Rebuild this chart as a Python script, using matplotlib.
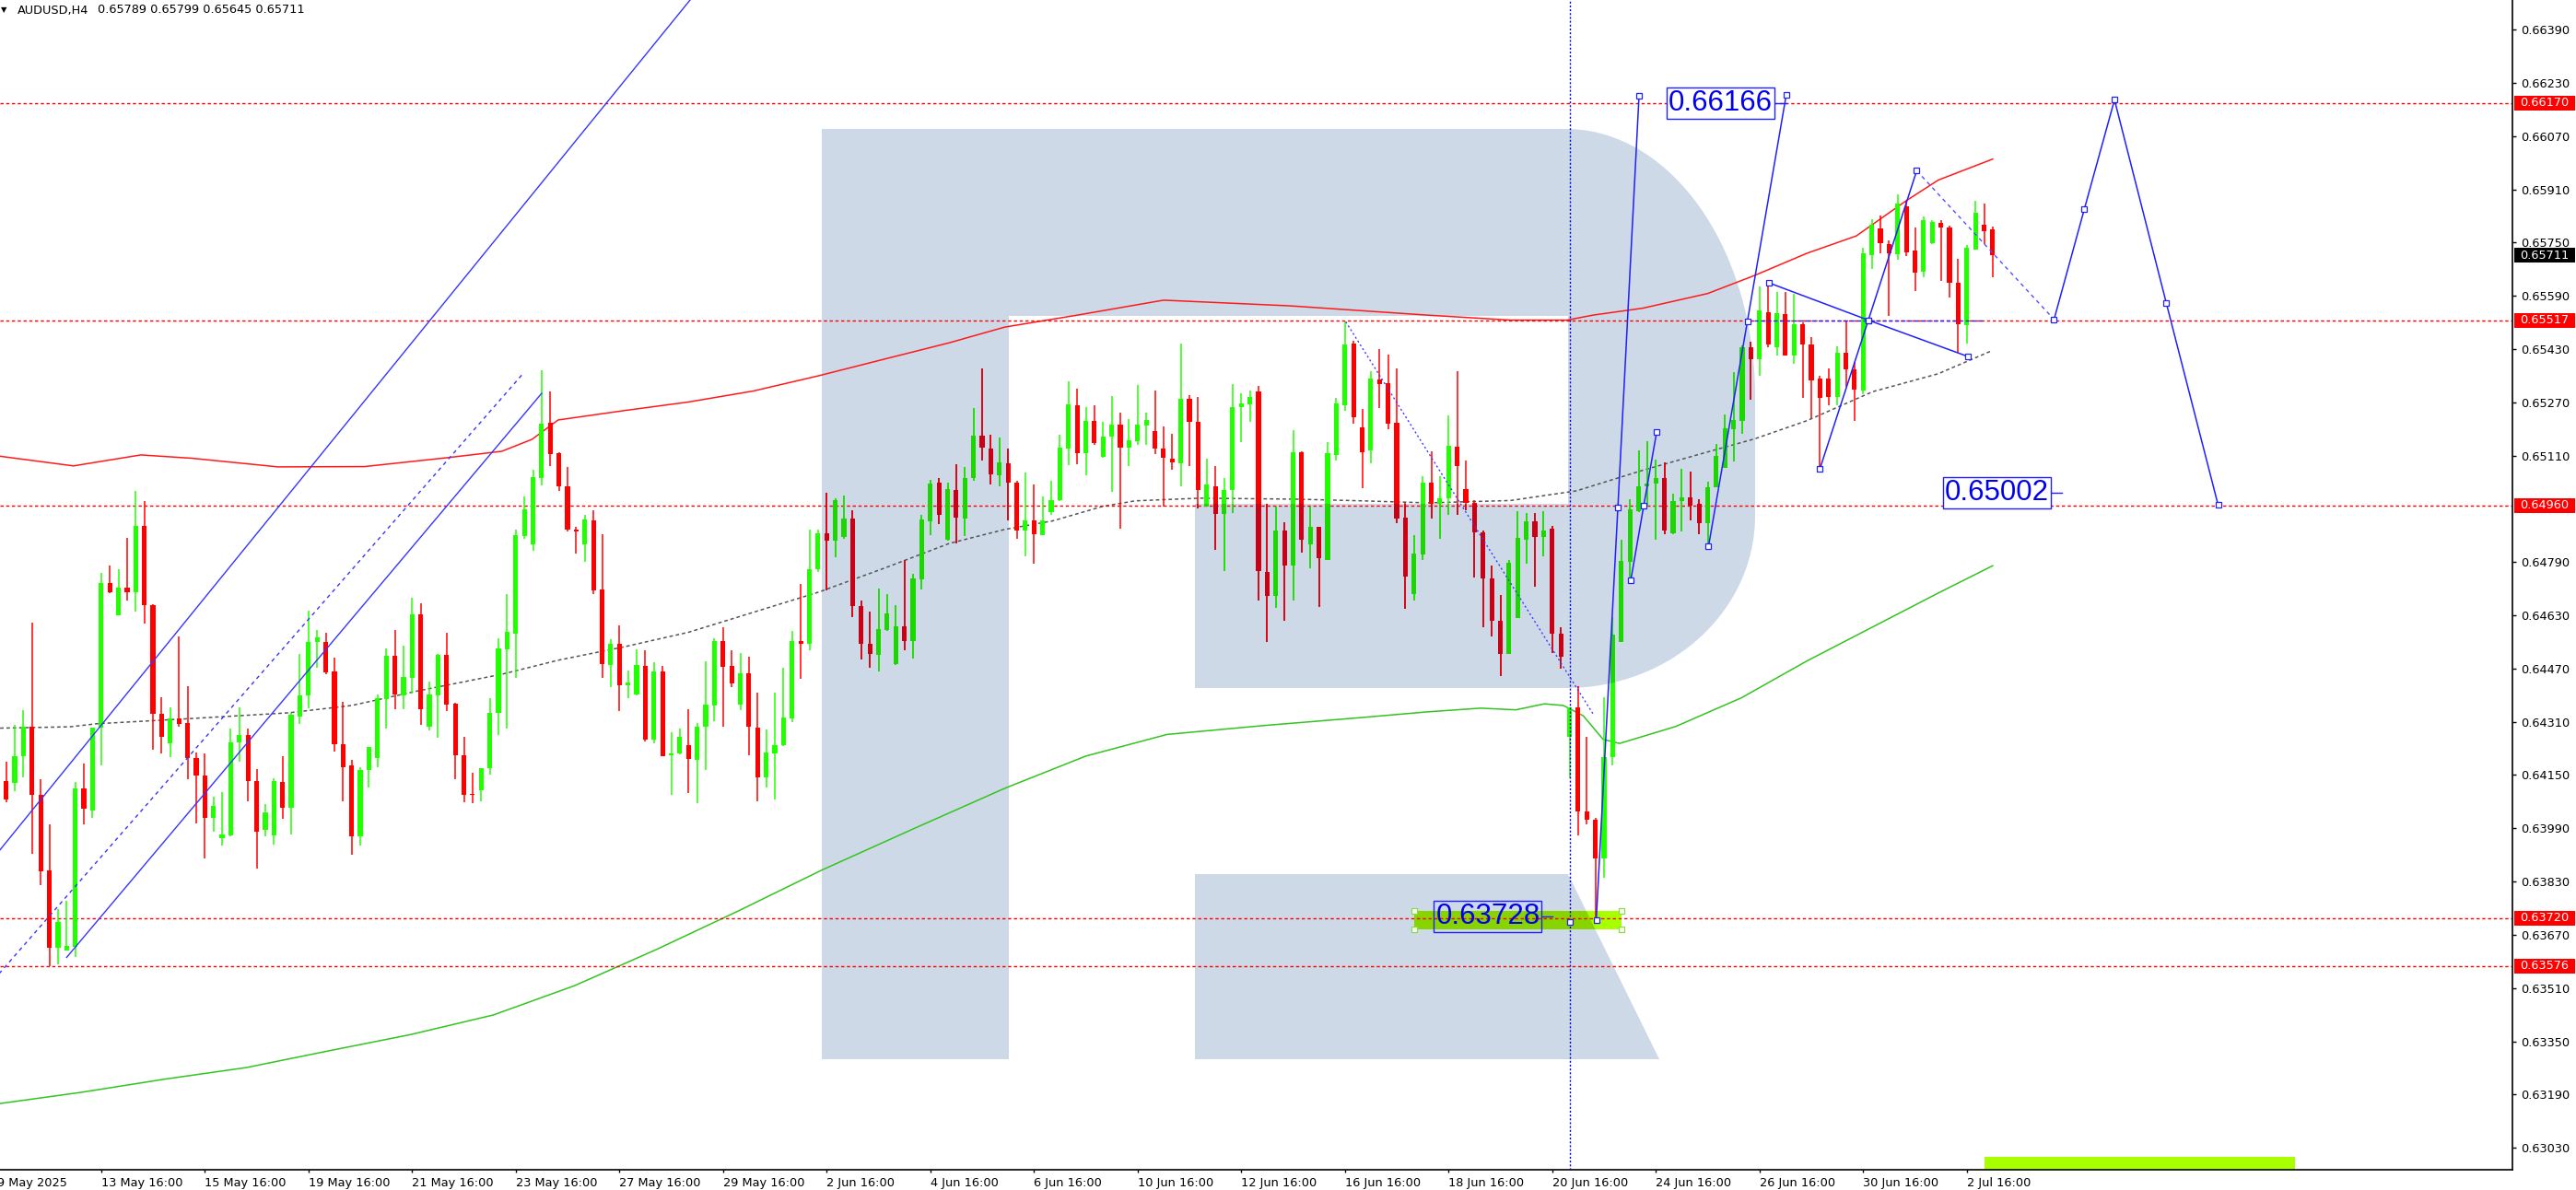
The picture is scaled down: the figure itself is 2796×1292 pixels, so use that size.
import numpy as np
import matplotlib
matplotlib.use('Agg')
import matplotlib.pyplot as plt
from matplotlib.path import Path
from matplotlib.patches import PathPatch, Rectangle
from matplotlib.ticker import FormatStrFormatter
from matplotlib.transforms import blended_transform_factory

plt.rcParams['font.family'] = ['DejaVu Sans']

# ---------------- data (AUDUSD H4) ----------------
opens = [
    .64078, .64133, .64127, .64206, .64295, .64091, .63864, .63632, .63624, .63635,
    .64110, .64044, .64293, .64728, .64630, .64714, .64700, .64899, .64660, .64334,
    .64246, .64320, .64305, .64200, .64148, .64022, .63961, .63969, .64248, .64269,
    .64132, .63984, .63969, .64130, .64051, .64327, .64389, .64551, .64551, .64460,
    .64242, .64178, .63965, .64164, .64200, .64379, .64508, .64390, .64443, .64633,
    .64294, .64389, .64511, .64364, .64209, .64094, .64104, .64170, .64336, .64527,
    .64576, .64868, .64843, .65042, .65208, .65116, .65018, .64888, .64843, .64915,
    .64707, .64480, .64545, .64419, .64392, .64478, .64256, .64461, .64209, .64214,
    .64241, .64195, .64295, .64360, .64552, .64478, .64362, .64455, .64292, .64142,
    .64216, .64239, .64320, .64552, .64544, .64769, .64876, .64853, .64865, .64922,
    .64658, .64545, .64511, .64585, .64483, .64596, .64554, .64737, .64912, .65028,
    .64856, .65006, .64920, .65042, .65171, .65132, .65050, .65088, .65030, .64886,
    .64916, .64872, .64941, .64976, .65130, .65260, .65116, .65214, .65106, .65168,
    .65202, .65133, .65154, .65200, .65184, .65130, .65102, .65088, .65280, .65211,
    .64956, .65019, .64934, .65006, .65256, .65264, .65304, .64760, .64688, .64884,
    .64780, .65120, .64842, .64896, .64797, .65112, .65262, .65448, .65194, .65126,
    .65338, .65328, .65208, .64923, .64694, .64814, .65030, .64964, .64983, .65138,
    .65008, .64968, .64880, .64742, .64614, .64515, .64622, .64857, .64912, .64865,
    .64890, .64576, .64265, .64354, .64040, .64016, .63900, .64205, .64551, .64791,
    .64943, .65019, .65027, .65042, .64877, .64972, .64984, .64964, .64906, .65016,
    .65074, .65189, .65215, .65435, .65399, .65542, .65435, .65534, .65412, .65506,
    .65443, .65341, .65341, .65286, .65420, .65369, .65305, .65713, .65793, .65746,
    .65715, .65859, .65726, .65663, .65749, .65808, .65796, .65628, .65503, .65729,
    .65804, .65789]
highs = [
    .64144, .64191, .64302, .64345, .64608, .64138, .64003, .63748, .63771, .64130,
    .64185, .64293, .64758, .64779, .64769, .64862, .65003, .64974, .64664, .64383,
    .64353, .64566, .64418, .64217, .64214, .64085, .64099, .64289, .64353, .64289,
    .64169, .64064, .64141, .64208, .64336, .64513, .64643, .64585, .64577, .64503,
    .64370, .64197, .64174, .64234, .64393, .64530, .64585, .64540, .64684, .64666,
    .64432, .64515, .64577, .64366, .64266, .64157, .64172, .64381, .64560, .64695,
    .64887, .64986, .65067, .65366, .65302, .65119, .65077, .64897, .64932, .64945,
    .64873, .64559, .64601, .64465, .64527, .64524, .64488, .64478, .64278, .64290,
    .64348, .64307, .64491, .64562, .64593, .64524, .64517, .64505, .64397, .64286,
    .64397, .64473, .64584, .64725, .64888, .64888, .64998, .64981, .64991, .64945,
    .64675, .64641, .64710, .64695, .64661, .64796, .64756, .64932, .65036, .65043,
    .65029, .65085, .65077, .65253, .65371, .65174, .65164, .65130, .65034, .65058,
    .65024, .64988, .65034, .65172, .65332, .65310, .65256, .65260, .65211, .65288,
    .65238, .65220, .65322, .65240, .65306, .65198, .65175, .65448, .65292, .65286,
    .65102, .65078, .65042, .65324, .65298, .65306, .65318, .64964, .64956, .64911,
    .65186, .65124, .64956, .64896, .65150, .65282, .65512, .65456, .65250, .65364,
    .65430, .65414, .65372, .64968, .64872, .65048, .65124, .65048, .65230, .65364,
    .65096, .64976, .64884, .64780, .64692, .64796, .64943, .64936, .64936, .64943,
    .64898, .64595, .64354, .64417, .64265, .64021, .64383, .64626, .64857, .64980,
    .65126, .65152, .65097, .65090, .64995, .65069, .65061, .64980, .65031, .65145,
    .65234, .65360, .65440, .65451, .65619, .65632, .65603, .65603, .65597, .65509,
    .65467, .65349, .65372, .65438, .65517, .65391, .65734, .65820, .65831, .65757,
    .65894, .65875, .65796, .65828, .65817, .65817, .65801, .65702, .65742, .65875,
    .65867, .65799]
lows = [
    .64067, .64067, .64102, .64144, .63914, .63818, .63576, .63580, .63624, .63604,
    .64003, .64022, .64180, .64696, .64630, .64675, .64641, .64605, .64226, .64215,
    .64204, .64296, .64138, .64005, .63899, .63980, .63938, .63966, .64189, .64072,
    .63869, .63966, .63940, .64019, .63972, .64304, .64352, .64472, .64452, .64221,
    .64070, .63910, .63937, .64112, .64174, .64291, .64347, .64347, .64395, .64302,
    .64285, .64263, .64342, .64138, .64067, .64065, .64072, .64150, .64270, .64290,
    .64443, .64860, .64823, .65021, .65078, .65004, .64881, .64816, .64792, .64693,
    .64443, .64414, .64342, .64382, .64389, .64251, .64246, .64207, .64091, .64211,
    .64095, .64066, .64164, .64312, .64295, .64414, .64345, .64209, .64070, .64113,
    .64076, .64236, .64310, .64438, .64524, .64759, .64705, .64804, .64860, .64626,
    .64498, .64473, .64461, .64582, .64480, .64524, .64500, .64707, .64870, .64904,
    .64853, .64846, .64868, .65033, .65095, .65023, .65018, .64914, .64860, .64808,
    .64784, .64872, .64932, .64974, .65082, .65085, .65052, .65142, .65103, .65001,
    .64890, .65078, .65142, .65142, .65115, .64958, .65067, .65018, .65078, .64950,
    .64956, .64827, .64764, .64938, .65151, .65211, .64674, .64551, .64652, .64614,
    .64674, .64818, .64772, .64656, .64797, .65094, .65244, .65206, .65013, .65088,
    .65254, .65190, .64908, .64650, .64674, .64797, .64920, .64860, .64932, .64932,
    .64947, .64743, .64593, .64566, .64448, .64515, .64622, .64786, .64717, .64807,
    .64516, .64469, .64139, .63969, .64001, .63720, .63841, .64178, .64551, .64736,
    .64940, .64956, .64857, .64874, .64874, .64881, .64914, .64874, .64838, .65016,
    .65074, .65093, .65176, .65278, .65349, .65435, .65412, .65412, .65385, .65283,
    .65223, .65072, .65262, .65262, .65317, .65215, .65294, .65671, .65718, .65529,
    .65699, .65710, .65605, .65647, .65745, .65636, .65584, .65420, .65446, .65729,
    .65745, .65645]
closes = [
    .64133, .64078, .64208, .64295, .64091, .63862, .63632, .63709, .63637, .64110,
    .64048, .64293, .64728, .64700, .64714, .64700, .64899, .64660, .64334, .64266,
    .64321, .64304, .64200, .64148, .64022, .64058, .63971, .64248, .64269, .64132,
    .63980, .64039, .64132, .64053, .64330, .64389, .64551, .64565, .64458, .64242,
    .64174, .63965, .64166, .64234, .64381, .64508, .64393, .64446, .64633, .64347,
    .64393, .64511, .64362, .64209, .64091, .64091, .64172, .64338, .64530, .64581,
    .64870, .64949, .65045, .65206, .65114, .65018, .64888, .64883, .64917, .64705,
    .64483, .64545, .64421, .64429, .64481, .64256, .64461, .64207, .64215, .64264,
    .64199, .64295, .64361, .64552, .64476, .64426, .64455, .64295, .64142, .64218,
    .64241, .64322, .64554, .64545, .64769, .64876, .64855, .64976, .64922, .64657,
    .64544, .64515, .64589, .64636, .64596, .64554, .64741, .64919, .65026, .64932,
    .65008, .64924, .65043, .65171, .65134, .65055, .65090, .65028, .64884, .64916,
    .64875, .64914, .64977, .65133, .65264, .65116, .65214, .65148, .65168, .65202,
    .65133, .65156, .65202, .65218, .65130, .65103, .65090, .65280, .65211, .65006,
    .65022, .64934, .65006, .65256, .65266, .65286, .64762, .64688, .64884, .64780,
    .65120, .64856, .64896, .64802, .65118, .65266, .65444, .65226, .65121, .65342,
    .65326, .65206, .64920, .64746, .64815, .65030, .64964, .64983, .65140, .65078,
    .64968, .64880, .64740, .64614, .64515, .64788, .64862, .64912, .64865, .64885,
    .64574, .64505, .64354, .64040, .64016, .63900, .64205, .64571, .64794, .64948,
    .65019, .65027, .65042, .64885, .64972, .64984, .64959, .64906, .65016, .65110,
    .65192, .65218, .65435, .65399, .65545, .65443, .65537, .65412, .65506, .65443,
    .65336, .65283, .65286, .65420, .65369, .65309, .65718, .65804, .65749, .65718,
    .65867, .65721, .65660, .65817, .65812, .65796, .65628, .65506, .65734, .65841,
    .65784, .65711]

tick_bars = list(range(0, 229, 12))
tick_labels = ['9 May 2025', '13 May 16:00', '15 May 16:00', '19 May 16:00', '21 May 16:00',
               '23 May 16:00', '27 May 16:00', '29 May 16:00', '2 Jun 16:00', '4 Jun 16:00',
               '6 Jun 16:00', '10 Jun 16:00', '12 Jun 16:00', '16 Jun 16:00', '18 Jun 16:00',
               '20 Jun 16:00', '24 Jun 16:00', '26 Jun 16:00', '30 Jun 16:00', '2 Jul 16:00']

price_ticks = [0.66390, 0.66230, 0.66070, 0.65910, 0.65750, 0.65590, 0.65430, 0.65270,
               0.65110, 0.64790, 0.64630, 0.64470, 0.64310, 0.64150, 0.63990, 0.63830,
               0.63670, 0.63510, 0.63350, 0.63190, 0.63030]
levels = [0.66170, 0.65517, 0.64960, 0.63720, 0.63576]

# moving averages (sampled along the bars)
red_ma_bars = [0.3, 8.8, 16.6, 22.5, 32.5, 42.5, 52.2, 58.4, 61.9, 64.9, 72.5, 80, 87.5, 95.1,
               102.7, 110.2, 116.6, 125, 135, 149.6, 165.6, 175.2, 181.7, 184.7, 190.5, 198,
               203.4, 209.5, 215.2, 221, 224.7, 231]
red_ma_vals = [.65108, .65079, .65112, .65102, .65076, .65077, .65104, .65123, .65159, .65217,
               .65245, .65271, .65304, .65350, .65400, .65449, .65496, .65532, .65577, .65560,
               .65532, .65517, .65517, .65532, .65553, .65597, .65651, .65718, .65770, .65876,
               .65938, .66001]
gray_ma_bars = [0.3, 8.4, 11.4, 22.5, 33.7, 41.0, 48.5, 58.4, 64.9, 72.5, 80, 87.5, 95.1, 102.7,
                110.2, 116.6, 122.2, 127.9, 131.7, 139.2, 150.5, 158, 165.6, 175.2, 182.8,
                190.5, 198, 203.4, 209.5, 217.1, 224.7, 230.8]
gray_ma_vals = [.64291, .64295, .64304, .64320, .64337, .64359, .64402, .64453, .64495, .64535,
                .64579, .64639, .64700, .64772, .64846, .64888, .64914, .64957, .64974, .64982,
                .64979, .64974, .64968, .64975, .65004, .65066, .65121, .65160, .65215, .65302,
                .65356, .65424]
green_ma_bars = [0.3, 9.8, 19.3, 28.8, 38.3, 47.8, 57.4, 66.8, 76.3, 85.8, 95.4, 106, 116.6, 126,
                 135.4, 146.7, 158, 165.6, 171.7, 175.8, 179.1, 181.3, 183.6, 185.9, 187.8,
                 194.3, 201.9, 209.5, 217.1, 224.7, 231]
green_ma_vals = [.63163, .63197, .63236, .63271, .63321, .63370, .63429, .63517, .63626, .63742,
                 .63864, .63988, .64110, .64207, .64272, .64299, .64323, .64340, .64351, .64346,
                 .64364, .64359, .64328, .64257, .64245, .64296, .64382, .64493, .64595, .64697,
                 .64779]

# analysis objects
channel_top = ([-1, 85], [.63884, .66633])
channel_low = ([8.0, 63.0], [.63602, .65297])
channel_mid = ([-1, 60.8], [.63518, .65355])
wave_lines = [
    ([185.1, 187.6, 190.05], [.63715, .64953, .66191]),
    ([189.1, 190.6, 192.1], [.64736, .64960, .65182]),
    ([198.1, 202.6, 207.1], [.64838, .65514, .66195]),
    ([205.1, 216.6, 228.1], [.65629, .65517, .65408]),
    ([211.0, 216.6, 222.2], [.65071, .65517, .65966]),
    ([238.1, 241.6, 245.1, 251.1, 257.1], [.65519, .65850, .66179, .65568, .64961]),
]
forecast_dash = ([222.2, 238.1], [.65966, .65519])
high_dots = ([156.1, 184.7], [.65512, .64335])
pivot_dash = ([202.6, 230.0], [.65517, .65517])
vline_bar = 182.05
vline_anchor = .63709
price_tags = [(199.5, .66168, '0.66166', 205.8, 207.1, 'white'),
              (172.55, .63725, '0.63728', 178.8, 180.0, 'none'),
              (231.5, .64998, '0.65002', 237.8, 239.0, 'white')]
green_box = (164.0, 188.0, .63685, .63741)
green_zone = (230.0, 266.0, .62900, .63004)

# ---------------- figure ----------------
W, H = 2796, 1292
PW, PH = 2727, 1270
fig = plt.figure(figsize=(W / 100, H / 100), dpi=100)
ax = fig.add_axes([0, (H - PH) / H, PW / W, PH / H])
ax.set_xlim(0.288, 291.17)
ax.set_ylim(0.62964, 0.66479)


def arc(cx, cy, rx, ry, a0, a1, n=40):
    t = np.radians(np.linspace(a0, a1, n))
    return list(zip(cx + rx * np.cos(t), cy - ry * np.sin(t)))


# background logo (pixel outline of the plot area)
bowl = ([(892, 140), (1700, 140)] + arc(1700, 430, 205, 290, 90, 0)
        + arc(1700, 560, 205, 187, 0, -90)
        + [(1297, 747), (1297, 547), (1702, 547), (1702, 343), (1095, 343),
           (1095, 1150), (892, 1150)])
leg = [(1297, 949), (1702, 949), (1801, 1150), (1297, 1150)]
verts, codes = [], []
for poly in (bowl, leg):
    pts = [(x / PW, 1 - y / PH) for x, y in poly]
    verts += pts + [pts[0]]
    codes += [Path.MOVETO] + [Path.LINETO] * (len(pts) - 1) + [Path.CLOSEPOLY]
logo = PathPatch(Path(verts, codes), transform=ax.transAxes, facecolor='#cdd9e7',
                 edgecolor='none', zorder=1)
ax.add_patch(logo)

# green rectangles
for (x0, x1, y0, y1), col in ((green_box, '#a8ff00'), (green_zone, '#a8ff00')):
    ax.add_patch(Rectangle((x0, y0), x1 - x0, y1 - y0, facecolor=col, edgecolor='none', zorder=1.5))
r = Rectangle((green_box[0], green_box[2]), green_box[1] - green_box[0],
              green_box[3] - green_box[2], facecolor='#88d400', edgecolor='none', zorder=1.6)
ax.add_patch(r)
r.set_clip_path(logo)
ax.plot([green_box[0], green_box[1], green_box[0], green_box[1]],
        [green_box[2], green_box[2], green_box[3], green_box[3]], ls='none', marker='s',
        ms=4, mfc='white', mec='#88dd44', mew=0.9, zorder=4)

# moving averages
ax.plot(green_ma_bars, green_ma_vals, color='#33c41f', lw=1.1, zorder=2)
ax.plot(red_ma_bars, red_ma_vals, color='#ff1a1a', lw=1.1, zorder=2)
ax.plot(gray_ma_bars, gray_ma_vals, color='#555555', lw=1.1, ls=(0, (2.5, 2)), zorder=2)

# horizontal levels
for lv in levels:
    ax.axhline(lv, color='#ff0000', lw=1.0, ls=(0, (2.5, 2)), zorder=2.5)

# candles
o, h, l, c = map(np.array, (opens, highs, lows, closes))
x = np.arange(len(o))


def draw_candles(up_col, dn_col, z, clip=None):
    cols = list(np.where(c >= o, up_col, dn_col))
    wicks = ax.vlines(x, l, h, colors=cols, linewidth=1.1, zorder=z)
    bars = ax.bar(x, np.maximum(np.abs(c - o), 3e-5), bottom=np.minimum(o, c), width=0.55,
                  color=cols, linewidth=0, zorder=z)
    if clip is not None:
        wicks.set_clip_path(clip)
        for b in bars:
            b.set_clip_path(clip)


draw_candles('#22ff00', '#ff0000', 3)
draw_candles('#1cd600', '#cc0014', 3.1, clip=logo)

# channel lines
ax.plot(*channel_top, color='#3535ff', lw=1.0, zorder=4)
ax.plot(*channel_low, color='#3535ff', lw=1.0, zorder=4)
ax.plot(*channel_mid, color='#3535ff', lw=1.0, ls=(0, (3, 3)), zorder=4)

# wave marking
ax.axvline(vline_bar, color='#0000dd', lw=1.0, ls=(0, (1.5, 1.5)), zorder=4)
ax.plot(*high_dots, color='#3c3cff', lw=1.0, ls=(0, (1.5, 2)), zorder=4)
ax.plot(*forecast_dash, color='#5050ff', lw=1.0, ls=(0, (3, 3)), zorder=4)
ax.plot(*pivot_dash, color='#2020ff', lw=1.0, ls=(0, (3, 2)), zorder=4)
for xs, ys in wave_lines:
    ax.plot(xs, ys, color='#1f1fff', lw=1.1, zorder=4, marker='s', ms=4, mfc='white',
            mec='#1f1fff', mew=0.9)
ax.plot([vline_bar], [vline_anchor], ls='none', marker='s', ms=4, mfc='white',
        mec='#1f1fff', mew=0.9, zorder=4)

for tx, ty, txt, t0, t1, fc in price_tags:
    ax.text(tx, ty, txt, ha='center', va='center', fontsize=22.5, family='Liberation Sans',
            color='#0000ee', zorder=6,
            bbox=dict(boxstyle='square,pad=0.06', facecolor=fc, edgecolor='#2020ff', lw=1.0))
    ax.plot([t0, t1], [ty, ty], color='#1f1fff', lw=1.0, zorder=6)

# axes styling
for s in ('top', 'left'):
    ax.spines[s].set_visible(False)
for s in ('right', 'bottom'):
    ax.spines[s].set_color('black')
    ax.spines[s].set_linewidth(1.2)
ax.set_facecolor('white')

ax.yaxis.tick_right()
ax.set_yticks(price_ticks)
ax.yaxis.set_major_formatter(FormatStrFormatter('%.5f'))
ax.tick_params(axis='y', direction='out', length=3, width=1, pad=3.5, labelsize=9.3,
               colors='black')

ax.set_xticks(tick_bars[1:], tick_labels[1:])
plt.setp(ax.get_xticklabels(), ha='left')
ax.tick_params(axis='x', direction='out', length=2.5, width=1, pad=3, labelsize=9.3,
               colors='black')
ax.annotate(tick_labels[0], xy=(tick_bars[0], 0), xycoords=('data', 'axes fraction'),
            xytext=(0, -5.5), textcoords='offset points', ha='left', va='top',
            fontsize=9.3, annotation_clip=False)

# price tags on the scale
tr = blended_transform_factory(ax.transAxes, ax.transData)
box_h = 16 * (0.66479 - 0.62964) / PH
for lv, fc in [(v, '#ff0000') for v in levels] + [(closes[-1], '#000000')]:
    ax.add_patch(Rectangle((2729 / PW, lv - box_h / 2), 66 / PW, box_h, transform=tr,
                           facecolor=fc, edgecolor='none', clip_on=False, zorder=6))
    ax.text(2735.5 / PW, lv, f'{lv:.5f}', transform=tr, color='white', fontsize=9.3,
            va='center', ha='left', clip_on=False, zorder=7)

# header
yh = 1 - 11 / H
fig.text(1 / W, yh, '\u25BC', fontsize=6, va='center', ha='left')
fig.text(19 / W, yh, 'AUDUSD,H4', fontsize=9.3, va='center', ha='left')
fig.text(106 / W, yh, f'{opens[-1]:.5f} {highs[-1]:.5f} {lows[-1]:.5f} {closes[-1]:.5f}',
         fontsize=9.3, va='center', ha='left')

fig.savefig('out.png', dpi=100, facecolor='white')
